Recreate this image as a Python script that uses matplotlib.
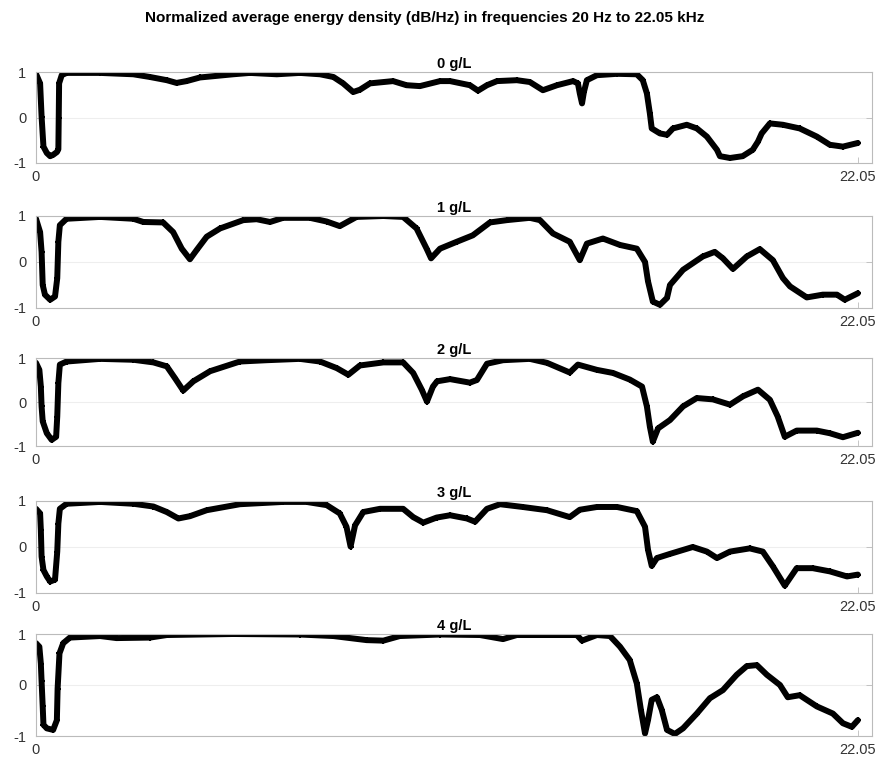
import matplotlib
matplotlib.use('Agg')
import matplotlib.pyplot as plt

# frequency (kHz) / normalized energy density samples per concentration
freq_0 = [0.00, 0.11, 0.15, 0.20, 0.29, 0.38, 0.46, 0.56, 0.60, 0.61, 0.62, 0.69, 0.82, 1.72, 2.61,
          3.06, 3.51, 3.77, 4.04, 4.40, 5.29, 5.74, 6.46, 7.08, 7.62, 7.98, 8.24, 8.51, 8.69, 8.96,
          9.58, 9.94, 10.30, 10.84, 11.11, 11.64, 11.86, 12.10, 12.37, 12.90, 13.25, 13.60, 13.98,
          14.41, 14.54, 14.59, 14.65, 14.70, 14.78, 15.05, 15.59, 16.12, 16.28, 16.39, 16.47, 16.52,
          16.74, 16.93, 17.09, 17.46, 17.73, 18.00, 18.27, 18.35, 18.62, 18.96, 19.23, 19.37, 19.47,
          19.69, 20.04, 20.49, 20.95, 21.30, 21.65, 22.05]
dens_0 = [0.96, 0.75, 0.02, -0.64, -0.78, -0.85, -0.82, -0.76, -0.70, 0.00, 0.75, 0.93, 0.98, 0.98, 0.95,
          0.89, 0.82, 0.76, 0.80, 0.88, 0.95, 0.98, 0.95, 0.98, 0.95, 0.89, 0.75, 0.56, 0.61, 0.75,
          0.80, 0.71, 0.69, 0.80, 0.80, 0.71, 0.59, 0.71, 0.80, 0.82, 0.78, 0.60, 0.71,
          0.80, 0.75, 0.53, 0.31, 0.56, 0.82, 0.93, 0.96, 0.95, 0.82, 0.53, 0.09, -0.24,
          -0.35, -0.38, -0.24, -0.16, -0.24, -0.42, -0.71, -0.85, -0.89, -0.85, -0.71, -0.53, -0.35,
          -0.13, -0.16, -0.24, -0.42, -0.60, -0.64, -0.56]

freq_1 = [0.00, 0.11, 0.15, 0.18, 0.24, 0.38, 0.51, 0.57, 0.60, 0.64, 0.82, 1.72, 2.61, 2.88, 3.41,
          3.68, 3.91, 4.13, 4.31, 4.58, 4.94, 5.56, 5.92, 6.28, 6.63, 7.35, 7.80, 8.15, 8.60, 9.32,
          9.85, 10.21, 10.48, 10.60, 10.84, 11.29, 11.72, 12.18, 12.63, 13.25, 13.52, 13.87, 14.32,
          14.59, 14.78, 15.21, 15.67, 16.12, 16.34, 16.42, 16.55, 16.74, 16.93, 17.01, 17.36, 17.89,
          18.21, 18.43, 18.70, 19.07, 19.42, 19.77, 20.04, 20.23, 20.68, 21.11, 21.49, 21.70, 22.05]
dens_1 = [0.94, 0.65, 0.22, -0.50, -0.71, -0.82, -0.75, -0.35, 0.44, 0.80, 0.94, 0.98, 0.94, 0.87, 0.86,
          0.65, 0.29, 0.06, 0.26, 0.55, 0.73, 0.91, 0.93, 0.87, 0.96, 0.96, 0.88, 0.78, 0.98, 1.00,
          0.98, 0.73, 0.29, 0.08, 0.29, 0.44, 0.58, 0.86, 0.91, 0.96, 0.91, 0.62, 0.44,
          0.04, 0.40, 0.51, 0.37, 0.29, 0.00, -0.42, -0.86, -0.93, -0.78, -0.50, -0.17, 0.12,
          0.22, 0.08, -0.15, 0.12, 0.28, 0.04, -0.35, -0.53, -0.77, -0.71, -0.71, -0.82, -0.68]

freq_2 = [0.00, 0.09, 0.13, 0.15, 0.18, 0.29, 0.42, 0.54, 0.57, 0.60, 0.64, 0.82, 1.72, 2.61, 3.15,
          3.51, 3.73, 3.95, 4.22, 4.67, 5.47, 6.19, 7.08, 7.62, 8.07, 8.38, 8.69, 9.32, 9.85, 10.12,
          10.35, 10.49, 10.65, 10.76, 11.11, 11.64, 11.83, 12.10, 12.53, 13.25, 13.71, 14.32, 14.54,
          15.05, 15.48, 15.93, 16.26, 16.39, 16.47, 16.55, 16.69, 17.01, 17.36, 17.73, 18.16, 18.62,
          18.97, 19.37, 19.69, 19.90, 20.09, 20.41, 20.95, 21.30, 21.65, 22.05]
dens_2 = [0.89, 0.73, 0.35, -0.10, -0.44, -0.71, -0.86, -0.79, -0.33, 0.43, 0.85, 0.92, 0.98, 0.96, 0.90,
          0.81, 0.54, 0.26, 0.47, 0.70, 0.92, 0.95, 0.98, 0.92, 0.77, 0.62, 0.83, 0.90, 0.90, 0.66,
          0.28, 0.01, 0.35, 0.47, 0.52, 0.44, 0.50, 0.87, 0.95, 0.98, 0.89, 0.67, 0.85,
          0.73, 0.66, 0.51, 0.35, -0.10, -0.56, -0.90, -0.60, -0.41, -0.10, 0.09, 0.06, -0.06,
          0.13, 0.28, 0.05, -0.33, -0.79, -0.65, -0.65, -0.71, -0.80, -0.70]

freq_3 = [0.00, 0.11, 0.13, 0.15, 0.20, 0.29, 0.38, 0.51, 0.57, 0.60, 0.64, 0.82, 1.72, 2.61, 3.15,
          3.51, 3.82, 4.13, 4.58, 5.47, 6.63, 7.26, 7.80, 8.15, 8.33, 8.44, 8.56, 8.78, 9.23, 9.85,
          10.12, 10.39, 10.75, 11.11, 11.56, 11.78, 12.10, 12.45, 13.06, 13.71, 14.32, 14.59, 15.05,
          15.59, 16.12, 16.34, 16.42, 16.52, 16.66, 17.01, 17.62, 18.00, 18.27, 18.62, 19.15, 19.50,
          19.77, 20.09, 20.41, 20.84, 21.30, 21.76, 22.05]
dens_3 = [0.83, 0.73, 0.37, -0.21, -0.50, -0.64, -0.75, -0.71, -0.10, 0.51, 0.83, 0.94, 0.98, 0.94, 0.88,
          0.76, 0.62, 0.67, 0.80, 0.93, 0.98, 0.98, 0.91, 0.73, 0.44, 0.01, 0.47, 0.76, 0.83, 0.83,
          0.65, 0.53, 0.64, 0.69, 0.62, 0.55, 0.83, 0.93, 0.87, 0.80, 0.65, 0.81, 0.87,
          0.87, 0.78, 0.44, -0.06, -0.41, -0.24, -0.15, 0.00, -0.10, -0.24, -0.10, -0.03, -0.10,
          -0.42, -0.84, -0.46, -0.46, -0.53, -0.64, -0.60]

freq_4 = [0.00, 0.09, 0.13, 0.15, 0.18, 0.20, 0.29, 0.46, 0.56, 0.58, 0.63, 0.73, 0.91, 1.72, 2.16,
          3.06, 3.51, 5.29, 7.08, 7.98, 8.87, 9.32, 9.76, 10.84, 11.91, 12.53, 12.90, 14.51, 14.65,
          15.05, 15.40, 15.67, 15.93, 16.12, 16.23, 16.34, 16.42, 16.52, 16.66, 16.79, 16.93, 17.14,
          17.36, 17.73, 18.08, 18.43, 18.80, 19.07, 19.34, 19.61, 19.96, 20.17, 20.49, 20.95, 21.38,
          21.65, 21.89, 22.05]
dens_4 = [0.82, 0.75, 0.42, 0.07, -0.42, -0.78, -0.85, -0.88, -0.69, -0.07, 0.62, 0.82, 0.93, 0.96, 0.92,
          0.93, 0.98, 1.00, 0.99, 0.96, 0.88, 0.87, 0.96, 0.99, 0.98, 0.90, 0.98, 0.98, 0.87,
          0.98, 0.96, 0.75, 0.49, 0.03, -0.49, -0.95, -0.69, -0.29, -0.24, -0.49, -0.88, -0.96,
          -0.85, -0.56, -0.26, -0.10, 0.20, 0.37, 0.39, 0.20, 0.00, -0.24, -0.20, -0.42, -0.56,
          -0.75, -0.82, -0.69]

labels = ['0 g/L', '1 g/L', '2 g/L', '3 g/L', '4 g/L']
freqs = [freq_0, freq_1, freq_2, freq_3, freq_4]
dens = [dens_0, dens_1, dens_2, dens_3, dens_4]

W, H = 879, 758
fig = plt.figure(figsize=(W / 100, H / 100), dpi=100)
plt.rcParams['font.family'] = ['Liberation Sans', 'DejaVu Sans']

# pixel extents (top, bottom) of each panel
boxes = [(72, 163), (216, 308), (358, 446), (501, 593), (634, 736)]
left_px, right_px = 36, 872

for i in range(5):
    t, b = boxes[i]
    ax = fig.add_axes([left_px / W, 1 - b / H, (right_px - left_px) / W, (b - t) / H])
    ax.plot(freqs[i], dens[i], color='black', lw=4.3, marker='+', ms=5, mew=1.5,
            solid_joinstyle='round', solid_capstyle='round')
    ax.set_xlim(0, 22.43)
    ax.set_ylim(-1, 1)
    ax.set_xticks([0, 22.05])
    ax.set_xticklabels(['0', '22.05'])
    ax.set_yticks([-1, 0, 1])
    ax.set_yticklabels(['-1', '0', '1'])
    ax.yaxis.grid(True, color='#eeeeee', lw=0.8)
    ax.set_axisbelow(True)
    ax.tick_params(direction='in', length=4, width=0.6, colors='#bbbbbb',
                   labelcolor='#333333', labelsize=10.5, right=True, top=False)
    ax.tick_params(axis='y', pad=7)
    ax.tick_params(axis='x', pad=5)
    for s in ax.spines.values():
        s.set_color('#bbbbbb')
        s.set_linewidth(0.8)
    ax.set_title(labels[i], fontsize=10.5, fontweight='bold', pad=3)

fig.text(425 / W, 1 - 18 / H, 'Normalized average energy density (dB/Hz) in frequencies 20 Hz to 22.05 kHz',
         ha='center', va='center', fontsize=11, fontweight='bold')

fig.savefig('out.png', dpi=100)
